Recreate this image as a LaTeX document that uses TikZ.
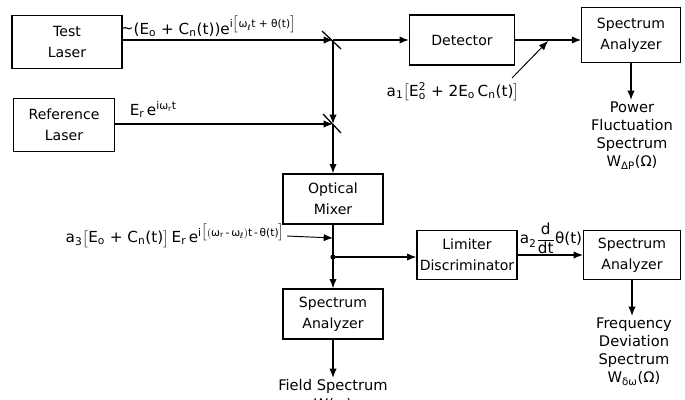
\documentclass[tikz,border=0pt]{standalone}
\usepackage{amsmath}
\usepackage{fontspec}
\setmainfont{DejaVu Sans}
\usetikzlibrary{arrows.meta, positioning}
\newcommand{\tx}[1]{\text{#1}}
\tikzset{
  every picture/.style={line width=1.1pt},
  block/.style={draw, align=center, font=\fontsize{12}{18}\selectfont, minimum width=#1, minimum height=1.55cm, inner sep=1pt},
  block/.default=3cm,
  arrow/.style={-{Latex[length=2.8mm, width=2.2mm]}},
  sig/.style={font=\fontsize{13}{15}\selectfont, inner sep=1pt},
  outtext/.style={font=\fontsize{12.5}{15.5}\selectfont, align=center, inner sep=1pt},
}

\begin{document}
\begin{tikzpicture}[x=0.03cm, y=-0.03cm]
  \useasboundingbox (0,0) rectangle (685,400);

  % boxes
  \node[block=3.3cm, minimum height=1.6cm] (test) at (67,42) {Test\\Laser};
  \node[block=3.05cm, minimum height=1.6cm] (ref) at (64,125) {Reference\\Laser};
  \node[block=3.15cm, minimum height=1.5cm] (det) at (462,40) {Detector};
  \node[block=2.95cm, minimum height=1.65cm] (sa1) at (631,35) {Spectrum\\Analyzer};
  \node[block=3cm, minimum height=1.5cm] (mixer) at (333,199) {Optical\\Mixer};
  \node[block=3cm, minimum height=1.45cm] (lim) at (467,255) {Limiter\\Discriminator};
  \node[block=2.9cm, minimum height=1.45cm] (sa2) at (632,255) {Spectrum\\Analyzer};
  \node[block=3cm, minimum height=1.5cm] (sa3) at (333,314) {Spectrum\\Analyzer};

  % beam splitters and junction
  \coordinate (bs1) at (333,40);
  \coordinate (bs2) at (333,124);
  \coordinate (j) at (333,257);
  \draw (322,31) -- (341,49);
  \draw (323,114) -- (341,133);

  % beams
  \draw[arrow] (test.east |- bs1) -- (bs1);
  \draw[arrow] (ref.east |- bs2) -- (bs2);
  \draw[arrow] (bs1) -- (bs2);
  \draw[arrow] (bs1) -- (det.west);
  \draw[arrow] (bs2) -- (mixer.north);
  \draw (mixer.south) -- (j);
  \draw[arrow] (j) -- (sa3.north);
  \draw[arrow] (j) -- (lim.west |- j);
  \fill (j) circle (2.2pt);
  \draw[arrow] (det.east) -- (sa1.west |- det.east);
  \draw[arrow] (lim.east) -- (sa2.west);

  % signal labels
  \node[sig, anchor=south west] (l1) at (119,38.5) {\raisebox{1pt}{\textasciitilde}(E$_{\tx{o}}$ + C$_{\tx{n}}$(t))e$^{\tx{i}\bigl[\tx{ω}_{\tx{ℓ}}\tx{t + θ(t)}\bigr]}$};
  \node[sig, anchor=south west] (l2) at (128,119) {E$_{\tx{r}}$\,e$^{\tx{iω}_{\tx{r}}\tx{t}}$};
  \node[sig] (l3) at (453,92) {a$_{\tx{1}}\bigl[$E$^{\tx{2}}_{\tx{o}}$ + 2E$_{\tx{o}}$\,C$_{\tx{n}}$(t)$\bigr]$};
  \node[sig, anchor=east] (l4) at (287,236) {a$_{\tx{3}}\bigl[$E$_{\tx{o}}$ + C$_{\tx{n}}$(t)$\bigr]$\,E$_{\tx{r}}$\,e$^{\tx{i}\bigl[(\tx{ω}_{\tx{r}}\tx{\,-\,ω}_{\tx{ℓ}})\tx{t\,-\,θ(t)}\bigr]}$};
  \node[sig, anchor=south] (l5) at (551,256) {a$_{\tx{2}}\dfrac{\tx{d}}{\tx{dt}}\tx{θ(t)}$};
  \coordinate (a1from) at (512,78);
  \coordinate (a1tip) at (548,41);
  \coordinate (a3tip) at (333,238);
  \draw[arrow, line width=0.8pt] (a1from) -- (a1tip);
  \draw[arrow, line width=0.8pt] (l4.east) -- (a3tip);

  % spectra
  \node[outtext, anchor=north] (out1) at (632,100) {Power\\Fluctuation\\Spectrum\\W$_{\tx{ΔP}}$(Ω)};
  \node[outtext, anchor=north] (out2) at (634,316) {Frequency\\Deviation\\Spectrum\\W$_{\tx{δω}}$(Ω)};
  \node[outtext, anchor=north] (out3) at (333,378) {Field Spectrum\\W(ω)};
  \draw[arrow] (sa1.south) -- (sa1.south |- out1.north);
  \draw[arrow] (sa2.south) -- (sa2.south |- out2.north);
  \draw[arrow] (sa3.south) -- (sa3.south |- out3.north);
\end{tikzpicture}
\end{document}
